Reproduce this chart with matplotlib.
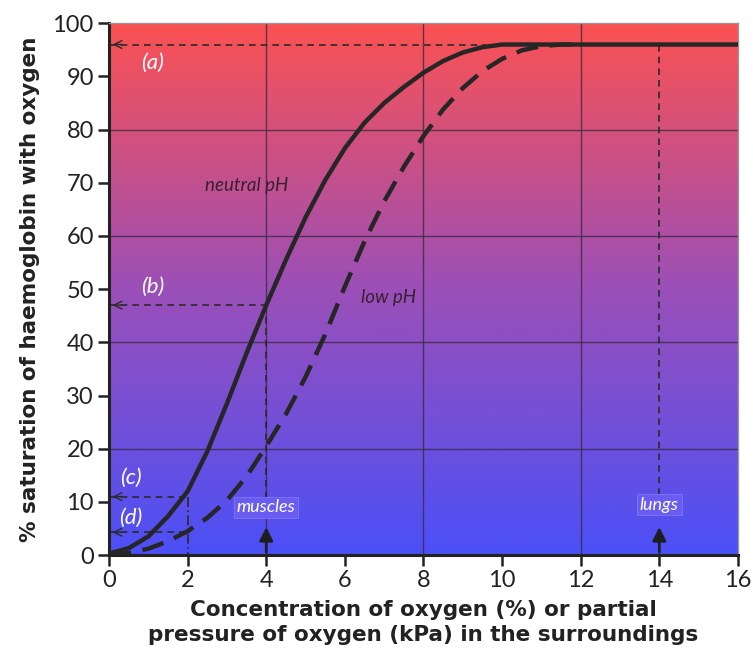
import numpy as np
import matplotlib
matplotlib.use("Agg")
import matplotlib.pyplot as plt
from matplotlib.colors import LinearSegmentedColormap

plt.rcParams["font.family"] = ["Lato", "DejaVu Sans"]

# curve values
x_neutral = [0, 0.5, 1, 1.5, 2, 2.5, 3, 3.5, 4, 4.5, 5, 5.5, 6, 6.5, 7, 7.5, 8,
             8.5, 9, 9.5, 10, 11, 12, 16]
y_neutral = [0.3, 1.3, 3.5, 7.3, 12, 19.5, 28.5, 38, 47, 55.5, 63.5, 70.5, 76.5,
             81.3, 85, 88, 90.7, 92.9, 94.5, 95.5, 96, 96, 96, 96]

x_low = [0, 0.5, 1, 1.5, 2, 2.5, 3, 3.5, 4, 4.5, 5, 5.5, 6, 6.5, 7, 7.5, 8,
         8.5, 9, 9.5, 10, 10.5, 11, 11.5, 12]
y_low = [0, 0.4, 1.2, 2.6, 4.5, 7, 10.3, 14.8, 20.5, 26.5, 33.5, 41.5, 50.5, 59,
         66.5, 73, 78.8, 83.8, 87.8, 91, 93.3, 94.9, 95.7, 96, 96]

plateau = 96
b_level = 47
c_level = 11
d_level = 4.3
muscles_x = 4
lungs_x = 14

fig = plt.figure(figsize=(7.53, 6.64), dpi=100)
ax = fig.add_axes([0.1448, 0.164, 0.8352, 0.801])

# red to blue background
cmap = LinearSegmentedColormap.from_list("bg", ["#4b4ff7", "#9b4fb8", "#fb5252"])
grad = np.linspace(0, 1, 256).reshape(-1, 1)
ax.imshow(grad, extent=[0, 16, 0, 100], origin="lower", aspect="auto",
          cmap=cmap, zorder=0)

ax.set_xlim(0, 16)
ax.set_ylim(0, 100)

# grid
for gx in [4, 8, 12]:
    ax.axvline(gx, color="#3a2a40", lw=1, alpha=0.8, zorder=1)
for gy in [20, 40, 60, 80]:
    ax.axhline(gy, color="#3a2a40", lw=1, alpha=0.8, zorder=1)

dcol = "#2a2a2a"
# guide lines
ax.plot([0, 9.6], [plateau, plateau], ls=(0, (4, 3)), color=dcol, lw=1.2, zorder=2)
ax.plot([0, muscles_x], [b_level, b_level], ls=(0, (4, 3)), color=dcol, lw=1.2, zorder=2)
ax.plot([muscles_x, muscles_x], [b_level, 9], ls=(0, (4, 3)), color=dcol, lw=1.2, zorder=2)
ax.plot([0, 2], [c_level, c_level], ls=(0, (4, 3)), color=dcol, lw=1.2, zorder=2)
ax.plot([2, 2], [c_level, 0], ls=(0, (6, 2, 1, 2)), color=dcol, lw=1.2, zorder=2)
ax.plot([0, 2], [d_level, d_level], ls=(0, (4, 3)), color=dcol, lw=1.2, zorder=2)
ax.plot([lungs_x, lungs_x], [plateau, 11], ls=(0, (4, 3)), color=dcol, lw=1.2, zorder=2)

# open arrowheads at the y axis
for lvl in [plateau, b_level, c_level, d_level]:
    ax.annotate("", xy=(0.02, lvl), xytext=(0.4, lvl),
                arrowprops=dict(arrowstyle="->", color=dcol, lw=1.0,
                                mutation_scale=14), zorder=3)

# curves
ax.plot(x_neutral, y_neutral, color="#262626", lw=3.2, zorder=4,
        solid_joinstyle="round")
ax.plot(x_low, y_low, color="#262626", lw=3.2, ls=(0, (5, 2.6)), zorder=4)

# arrows to muscles and lungs
for ax_x in [muscles_x, lungs_x]:
    ax.annotate("", xy=(ax_x, 5.8), xytext=(ax_x, 0),
                arrowprops=dict(arrowstyle="-|>", color="#1e1e1e", lw=2,
                                mutation_scale=20), zorder=5)

lab = dict(color="white", fontsize=13, style="italic", ha="center", va="center",
           zorder=6)
box = dict(boxstyle="square,pad=0.15", fc="#6a5cf0", ec="#7f76f2", lw=0.6)
ax.text(muscles_x, 9, "muscles", bbox=box, **lab)
ax.text(lungs_x, 9.5, "lungs", bbox=box, **lab)

ann = dict(color="white", fontsize=16, style="italic", ha="center", va="center",
           zorder=6)
ax.text(1.1, 92.5, "(a)", **ann)
ax.text(1.1, 50.5, "(b)", **ann)
ax.text(0.55, 14.5, "(c)", **ann)
ax.text(0.55, 7, "(d)", **ann)

ax.text(3.5, 69.5, "neutral pH", color="#3a2030", fontsize=13.5, style="italic",
        ha="center", va="center", zorder=6)
ax.text(7.1, 48.5, "low pH", color="#3a2030", fontsize=13.5, style="italic",
        ha="center", va="center", zorder=6)

ax.set_xticks(range(0, 17, 2))
ax.set_yticks(range(0, 101, 10))
ax.tick_params(direction="out", length=8, width=1.8, labelsize=17,
               colors="#222222", pad=3)
for s in ["left", "bottom"]:
    ax.spines[s].set_linewidth(2.2)
    ax.spines[s].set_color("#222222")
for s in ["top", "right"]:
    ax.spines[s].set_linewidth(1)
    ax.spines[s].set_color("#999999")

ax.set_ylabel("% saturation of haemoglobin with oxygen", fontsize=15.5,
              fontweight="bold", color="#222222", labelpad=9,
              family="DejaVu Sans")
ax.set_xlabel("Concentration of oxygen (%) or partial\n"
              "pressure of oxygen (kPa) in the surroundings", fontsize=15.5,
              fontweight="bold", color="#222222", labelpad=6, linespacing=1.35,
              family="DejaVu Sans")

fig.savefig("out.png", dpi=100)
